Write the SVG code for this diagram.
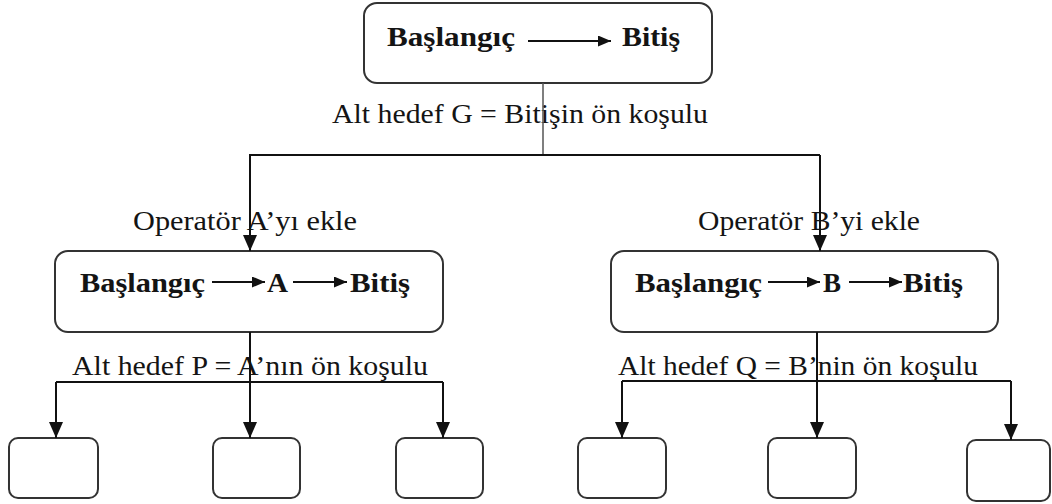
<svg xmlns="http://www.w3.org/2000/svg" width="1052" height="504" viewBox="0 0 1052 504">
  <style>
    .box { fill: #ffffff; stroke: #333333; stroke-width: 2; }
    .bold { font-family: "Liberation Serif", "Times New Roman", serif; font-weight: bold; font-size: 27px; fill: #141414; }
    .lbl { font-family: "Liberation Serif", "Times New Roman", serif; font-size: 27px; fill: #141414; }
    .wire { fill: none; stroke: #111111; stroke-width: 2; }
    .thin { fill: none; stroke: #555555; stroke-width: 1.5; }
    .inline { fill: none; stroke: #111111; stroke-width: 2; }
  </style>
  <defs>
    <marker id="arrow" viewBox="0 0 16 14" refX="16" refY="7" markerWidth="16" markerHeight="14" markerUnits="userSpaceOnUse" orient="auto">
      <path d="M0,0 L16,7 L0,14 Z" fill="#111111"/>
    </marker>
    <marker id="arrowSmall" viewBox="0 0 13 11" refX="13" refY="5.5" markerWidth="13" markerHeight="11" markerUnits="userSpaceOnUse" orient="auto">
      <path d="M0,0 L13,5.5 L0,11 Z" fill="#111111"/>
    </marker>
  </defs>

  <!-- Root plan: start to goal -->
  <g id="node-root">
    <rect class="box" x="364" y="3" width="348" height="80" rx="13"/>
    <text class="bold" x="387" y="46" textLength="128" lengthAdjust="spacingAndGlyphs">Başlangıç</text>
    <line class="inline" x1="528" y1="41" x2="611" y2="41" marker-end="url(#arrowSmall)"/>
    <text class="bold" x="622" y="46" textLength="58" lengthAdjust="spacingAndGlyphs">Bitiş</text>
  </g>

  <!-- Plan with operator A -->
  <g id="node-a">
    <rect class="box" x="55" y="251" width="388" height="81" rx="13"/>
    <text class="bold" x="80" y="292" textLength="125" lengthAdjust="spacingAndGlyphs">Başlangıç</text>
    <line class="inline" x1="212" y1="282" x2="265" y2="282" marker-end="url(#arrowSmall)"/>
    <text class="bold" x="267" y="292" textLength="21" lengthAdjust="spacingAndGlyphs">A</text>
    <line class="inline" x1="293" y1="282" x2="347" y2="282" marker-end="url(#arrowSmall)"/>
    <text class="bold" x="350" y="292" textLength="60" lengthAdjust="spacingAndGlyphs">Bitiş</text>
  </g>

  <!-- Plan with operator B -->
  <g id="node-b">
    <rect class="box" x="611" y="251" width="387" height="81" rx="13"/>
    <text class="bold" x="635" y="292" textLength="127" lengthAdjust="spacingAndGlyphs">Başlangıç</text>
    <line class="inline" x1="768" y1="282" x2="820" y2="282" marker-end="url(#arrowSmall)"/>
    <text class="bold" x="823" y="292" textLength="18" lengthAdjust="spacingAndGlyphs">B</text>
    <line class="inline" x1="849" y1="282" x2="902" y2="282" marker-end="url(#arrowSmall)"/>
    <text class="bold" x="903" y="292" textLength="60" lengthAdjust="spacingAndGlyphs">Bitiş</text>
  </g>

  <!-- Empty sub-goal boxes -->
  <g id="node-p1"><rect class="box" x="9" y="438" width="89" height="60" rx="9"/></g>
  <g id="node-p2"><rect class="box" x="213" y="438" width="87" height="60" rx="9"/></g>
  <g id="node-p3"><rect class="box" x="396" y="438" width="87" height="60" rx="9"/></g>
  <g id="node-q1"><rect class="box" x="578" y="438" width="88" height="60" rx="9"/></g>
  <g id="node-q2"><rect class="box" x="768" y="438" width="88" height="60" rx="9"/></g>
  <g id="node-q3"><rect class="box" x="967" y="440" width="83" height="61" rx="9"/></g>

  <!-- Edge labels -->
  <g id="labels">
    <text class="lbl" x="332" y="123" textLength="376" lengthAdjust="spacingAndGlyphs">Alt hedef G = Bitişin ön koşulu</text>
    <text class="lbl" x="133" y="230" textLength="224" lengthAdjust="spacingAndGlyphs">Operatör A’yı ekle</text>
    <text class="lbl" x="698" y="230" textLength="222" lengthAdjust="spacingAndGlyphs">Operatör B’yi ekle</text>
    <text class="lbl" x="72" y="375" textLength="356" lengthAdjust="spacingAndGlyphs">Alt hedef P = A’nın ön koşulu</text>
    <text class="lbl" x="618" y="375" textLength="360" lengthAdjust="spacingAndGlyphs">Alt hedef Q = B’nin ön koşulu</text>
  </g>

  <!-- Connectors -->
  <g id="connectors">
    <line class="thin" x1="543" y1="83" x2="543" y2="155"/>
    <line class="wire" x1="249" y1="155" x2="820" y2="155" stroke-width="1.5"/>
    <line class="wire" x1="250" y1="155" x2="250" y2="251" marker-end="url(#arrow)"/>
    <line class="wire" x1="820" y1="155" x2="820" y2="251" marker-end="url(#arrow)"/>

    <line class="wire" x1="250" y1="332" x2="250" y2="438" marker-end="url(#arrow)"/>
    <line class="wire" x1="56" y1="382" x2="443" y2="382"/>
    <line class="wire" x1="56" y1="382" x2="56" y2="438" marker-end="url(#arrow)"/>
    <line class="wire" x1="443" y1="382" x2="443" y2="438" marker-end="url(#arrow)"/>

    <line class="wire" x1="817" y1="332" x2="817" y2="438" marker-end="url(#arrow)"/>
    <line class="wire" x1="622" y1="381" x2="1011" y2="381"/>
    <line class="wire" x1="622" y1="381" x2="622" y2="438" marker-end="url(#arrow)"/>
    <line class="wire" x1="1011" y1="381" x2="1011" y2="440" marker-end="url(#arrow)"/>
  </g>
</svg>
